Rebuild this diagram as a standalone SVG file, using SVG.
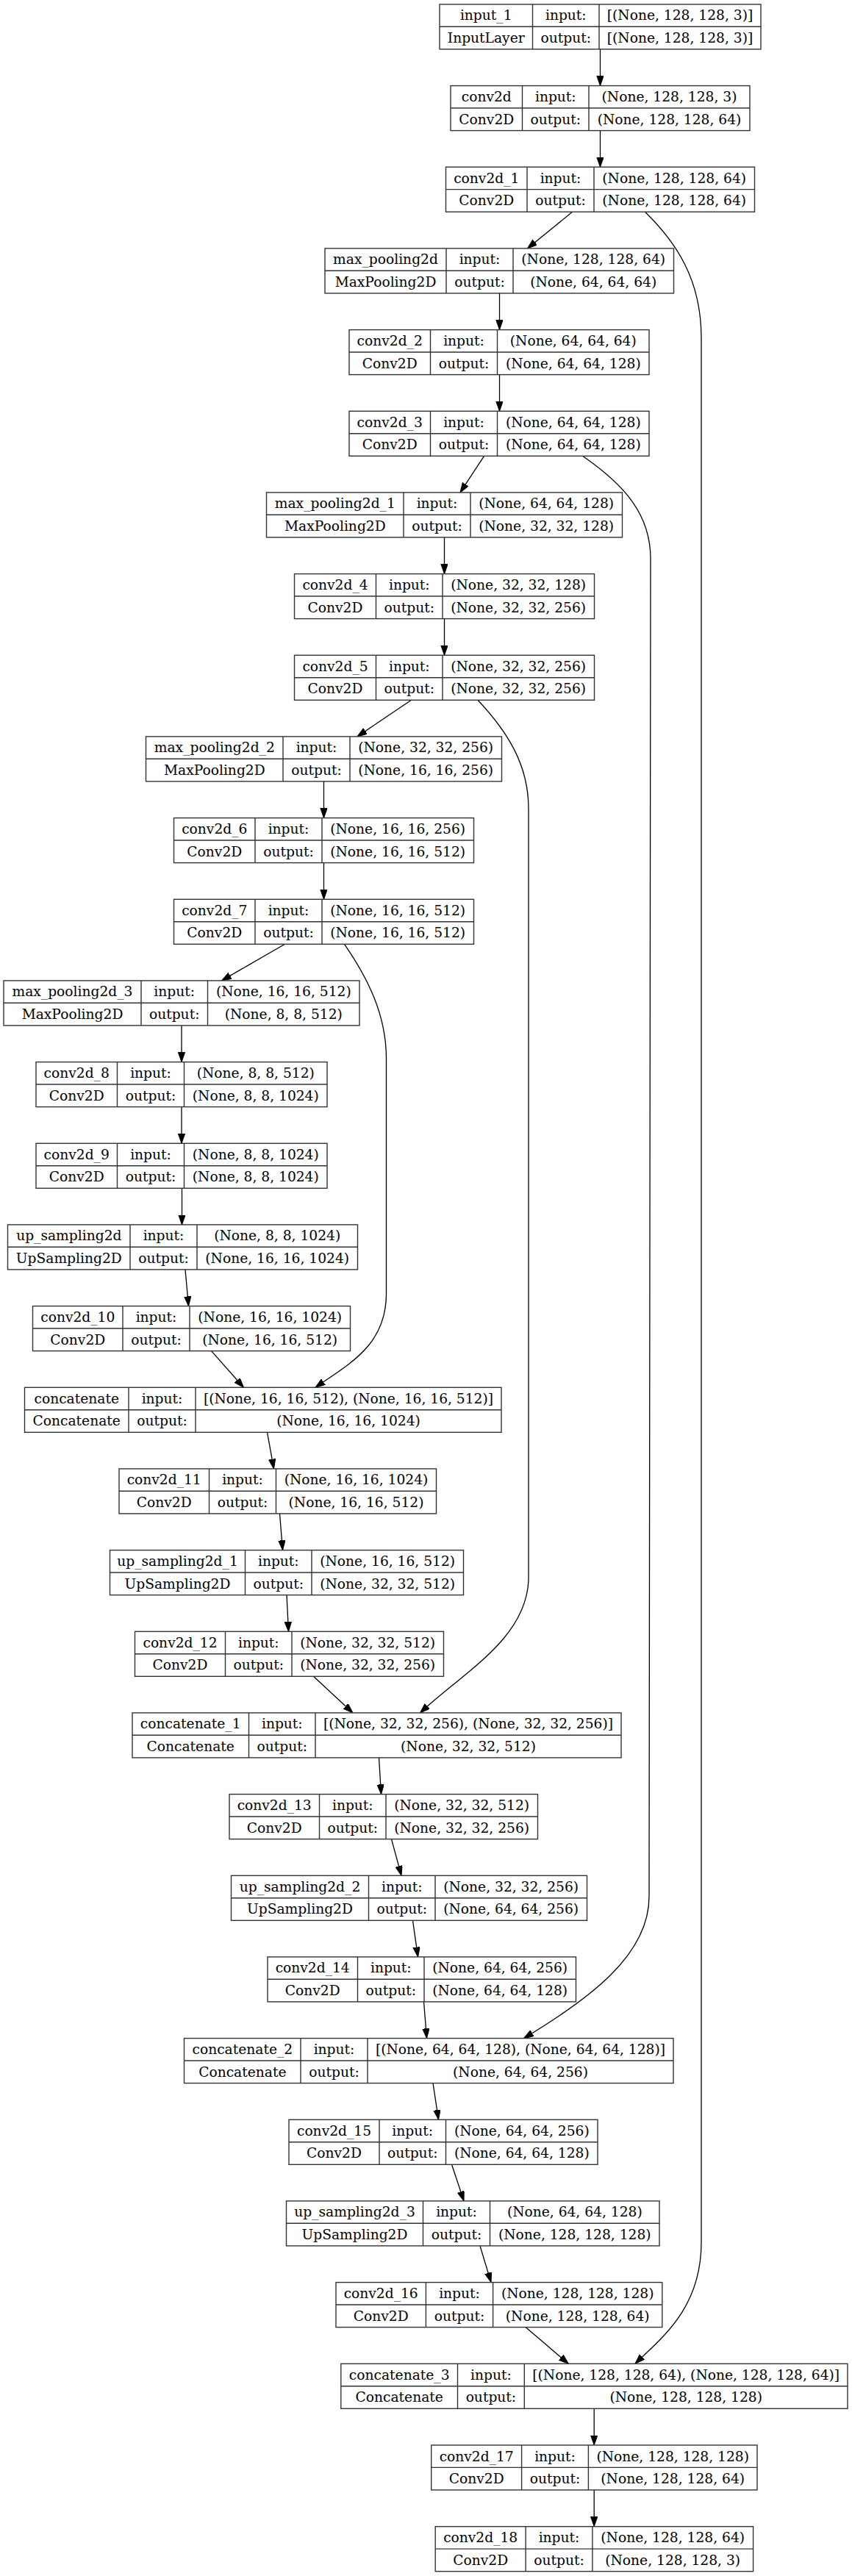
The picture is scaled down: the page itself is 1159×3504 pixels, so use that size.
<svg xmlns="http://www.w3.org/2000/svg" width="1159" height="3504" viewBox="0 0 1159 3504">
<style>
.b{fill:#fff;stroke:#333;stroke-width:1.4}
.l{stroke:#333;stroke-width:1.4;fill:none}
text{font-family:"DejaVu Serif","Liberation Serif",serif;font-size:18.67px;fill:#000;text-anchor:middle}
.e{stroke:#000;stroke-width:1.3;fill:none;marker-end:url(#ah)}
</style>
<defs>
<marker id="ah" markerWidth="14" markerHeight="10" refX="13.3" refY="4.67" orient="auto" markerUnits="userSpaceOnUse"><path d="M0,0 L13.3,4.67 L0,9.33 z" fill="#000" stroke="#000" stroke-width="1"/></marker>
</defs>
<rect width="1159" height="3504" fill="#fff"/>
<g id="connectors">
<path class="e" d="M816.5,67 L816.5,116.6"/>
<path class="e" d="M816.5,177.6 L816.5,227.2"/>
<path class="e" d="M778.5,288.3 L717.5,337.9"/>
<path class="e" d="M679.5,399 L679.5,448.6"/>
<path class="e" d="M679.5,509.6 L679.5,559.3"/>
<path class="e" d="M658.5,620.3 L626,669.9"/>
<path class="e" d="M604.5,731 L604.5,780.6"/>
<path class="e" d="M604.5,841.6 L604.5,891.3"/>
<path class="e" d="M559.5,952.3 L486,1001.9"/>
<path class="e" d="M440.5,1063 L440.5,1112.6"/>
<path class="e" d="M440.5,1173.6 L440.5,1223.3"/>
<path class="e" d="M387.5,1284.3 L301.5,1333.9"/>
<path class="e" d="M247,1395 L247,1444.6"/>
<path class="e" d="M247,1505.6 L247,1555.3"/>
<path class="e" d="M247.5,1616.3 L247.5,1665.9"/>
<path class="e" d="M252,1727 L256.5,1776.6"/>
<path class="e" d="M287.5,1837.6 L331.5,1887.3"/>
<path class="e" d="M363.5,1948.3 L372.5,1997.9"/>
<path class="e" d="M380.5,2059 L384.5,2108.6"/>
<path class="e" d="M390,2169.6 L392.5,2219.3"/>
<path class="e" d="M426.5,2280.3 L480,2329.9"/>
<path class="e" d="M515.5,2391 L518.5,2440.6"/>
<path class="e" d="M532.5,2501.6 L546,2551.3"/>
<path class="e" d="M561.5,2612.3 L568.5,2661.9"/>
<path class="e" d="M576.5,2723 L580.5,2772.6"/>
<path class="e" d="M589,2833.6 L596.5,2883.3"/>
<path class="e" d="M614.5,2944.3 L631,2993.9"/>
<path class="e" d="M653,3055 L668,3104.6"/>
<path class="e" d="M715,3165.6 L773.3,3215.3"/>
<path class="e" d="M808.2,3276.3 L808.2,3325.9"/>
<path class="e" d="M808.2,3387 L808.2,3436.6"/>
<path class="e" d="M877.5,288.3 C920,330 954,380 954,460 L954,3050 C954,3140 900,3180 864,3215.3"/>
<path class="e" d="M792.5,620.3 C850,660 885,700 885,760 L883,2580 C883,2660 800,2720 712.5,2772.6"/>
<path class="e" d="M650,952.3 C690,995 719,1040 719,1100 L719,2150 C715,2230 630,2275 571.5,2329.9"/>
<path class="e" d="M468.5,1284.3 C500,1330 525.5,1380 525.5,1440 L525.5,1760 C525.5,1830 475,1855 429,1887.3"/>
</g>
<g id="input_1" transform="translate(0,5.9)"><rect class="b" x="598" y="0" width="437" height="61"/><path class="l" d="M598,30.4H1035M724.5,0V61M815,0V61"/><text x="661.2" y="21.5">input_1</text><text x="661.2" y="52">InputLayer</text><text x="769.8" y="21.5">input:</text><text x="769.8" y="52">output:</text><text x="925" y="21.5">[(None, 128, 128, 3)]</text><text x="925" y="52">[(None, 128, 128, 3)]</text></g>
<g id="conv2d" transform="translate(0,116.6)"><rect class="b" x="613" y="0" width="407" height="61"/><path class="l" d="M613,30.4H1020M710.5,0V61M801,0V61"/><text x="661.8" y="21.5">conv2d</text><text x="661.8" y="52">Conv2D</text><text x="755.8" y="21.5">input:</text><text x="755.8" y="52">output:</text><text x="910.5" y="21.5">(None, 128, 128, 3)</text><text x="910.5" y="52">(None, 128, 128, 64)</text></g>
<g id="conv2d_1" transform="translate(0,227.2)"><rect class="b" x="606.5" y="0" width="420" height="61"/><path class="l" d="M606.5,30.4H1026.5M717,0V61M808,0V61"/><text x="661.8" y="21.5">conv2d_1</text><text x="661.8" y="52">Conv2D</text><text x="762.5" y="21.5">input:</text><text x="762.5" y="52">output:</text><text x="917.2" y="21.5">(None, 128, 128, 64)</text><text x="917.2" y="52">(None, 128, 128, 64)</text></g>
<g id="max_pooling2d" transform="translate(0,337.9)"><rect class="b" x="442" y="0" width="474.5" height="61"/><path class="l" d="M442,30.4H916.5M607,0V61M698,0V61"/><text x="524.5" y="21.5">max_pooling2d</text><text x="524.5" y="52">MaxPooling2D</text><text x="652.5" y="21.5">input:</text><text x="652.5" y="52">output:</text><text x="807.2" y="21.5">(None, 128, 128, 64)</text><text x="807.2" y="52">(None, 64, 64, 64)</text></g>
<g id="conv2d_2" transform="translate(0,448.6)"><rect class="b" x="475" y="0" width="408" height="61"/><path class="l" d="M475,30.4H883M585.5,0V61M676.5,0V61"/><text x="530.2" y="21.5">conv2d_2</text><text x="530.2" y="52">Conv2D</text><text x="631" y="21.5">input:</text><text x="631" y="52">output:</text><text x="779.8" y="21.5">(None, 64, 64, 64)</text><text x="779.8" y="52">(None, 64, 64, 128)</text></g>
<g id="conv2d_3" transform="translate(0,559.3)"><rect class="b" x="475" y="0" width="408" height="61"/><path class="l" d="M475,30.4H883M585.5,0V61M676.5,0V61"/><text x="530.2" y="21.5">conv2d_3</text><text x="530.2" y="52">Conv2D</text><text x="631" y="21.5">input:</text><text x="631" y="52">output:</text><text x="779.8" y="21.5">(None, 64, 64, 128)</text><text x="779.8" y="52">(None, 64, 64, 128)</text></g>
<g id="max_pooling2d_1" transform="translate(0,669.9)"><rect class="b" x="362.5" y="0" width="484" height="61"/><path class="l" d="M362.5,30.4H846.5M549,0V61M640,0V61"/><text x="455.8" y="21.5">max_pooling2d_1</text><text x="455.8" y="52">MaxPooling2D</text><text x="594.5" y="21.5">input:</text><text x="594.5" y="52">output:</text><text x="743.2" y="21.5">(None, 64, 64, 128)</text><text x="743.2" y="52">(None, 32, 32, 128)</text></g>
<g id="conv2d_4" transform="translate(0,780.6)"><rect class="b" x="400.5" y="0" width="408" height="61"/><path class="l" d="M400.5,30.4H808.5M511.5,0V61M602,0V61"/><text x="456" y="21.5">conv2d_4</text><text x="456" y="52">Conv2D</text><text x="556.8" y="21.5">input:</text><text x="556.8" y="52">output:</text><text x="705.2" y="21.5">(None, 32, 32, 128)</text><text x="705.2" y="52">(None, 32, 32, 256)</text></g>
<g id="conv2d_5" transform="translate(0,891.3)"><rect class="b" x="400.5" y="0" width="408" height="61"/><path class="l" d="M400.5,30.4H808.5M511.5,0V61M602,0V61"/><text x="456" y="21.5">conv2d_5</text><text x="456" y="52">Conv2D</text><text x="556.8" y="21.5">input:</text><text x="556.8" y="52">output:</text><text x="705.2" y="21.5">(None, 32, 32, 256)</text><text x="705.2" y="52">(None, 32, 32, 256)</text></g>
<g id="max_pooling2d_2" transform="translate(0,1001.9)"><rect class="b" x="198.5" y="0" width="484" height="61"/><path class="l" d="M198.5,30.4H682.5M385,0V61M476,0V61"/><text x="291.8" y="21.5">max_pooling2d_2</text><text x="291.8" y="52">MaxPooling2D</text><text x="430.5" y="21.5">input:</text><text x="430.5" y="52">output:</text><text x="579.2" y="21.5">(None, 32, 32, 256)</text><text x="579.2" y="52">(None, 16, 16, 256)</text></g>
<g id="conv2d_6" transform="translate(0,1112.6)"><rect class="b" x="236.5" y="0" width="408" height="61"/><path class="l" d="M236.5,30.4H644.5M347,0V61M438,0V61"/><text x="291.8" y="21.5">conv2d_6</text><text x="291.8" y="52">Conv2D</text><text x="392.5" y="21.5">input:</text><text x="392.5" y="52">output:</text><text x="541.2" y="21.5">(None, 16, 16, 256)</text><text x="541.2" y="52">(None, 16, 16, 512)</text></g>
<g id="conv2d_7" transform="translate(0,1223.3)"><rect class="b" x="236.5" y="0" width="408" height="61"/><path class="l" d="M236.5,30.4H644.5M347,0V61M438,0V61"/><text x="291.8" y="21.5">conv2d_7</text><text x="291.8" y="52">Conv2D</text><text x="392.5" y="21.5">input:</text><text x="392.5" y="52">output:</text><text x="541.2" y="21.5">(None, 16, 16, 512)</text><text x="541.2" y="52">(None, 16, 16, 512)</text></g>
<g id="max_pooling2d_3" transform="translate(0,1333.9)"><rect class="b" x="5" y="0" width="484" height="61"/><path class="l" d="M5,30.4H489M192,0V61M282.5,0V61"/><text x="98.5" y="21.5">max_pooling2d_3</text><text x="98.5" y="52">MaxPooling2D</text><text x="237.2" y="21.5">input:</text><text x="237.2" y="52">output:</text><text x="385.8" y="21.5">(None, 16, 16, 512)</text><text x="385.8" y="52">(None, 8, 8, 512)</text></g>
<g id="conv2d_8" transform="translate(0,1444.6)"><rect class="b" x="49" y="0" width="396" height="61"/><path class="l" d="M49,30.4H445M159.5,0V61M250.5,0V61"/><text x="104.2" y="21.5">conv2d_8</text><text x="104.2" y="52">Conv2D</text><text x="205" y="21.5">input:</text><text x="205" y="52">output:</text><text x="347.8" y="21.5">(None, 8, 8, 512)</text><text x="347.8" y="52">(None, 8, 8, 1024)</text></g>
<g id="conv2d_9" transform="translate(0,1555.3)"><rect class="b" x="49" y="0" width="396" height="61"/><path class="l" d="M49,30.4H445M159.5,0V61M250.5,0V61"/><text x="104.2" y="21.5">conv2d_9</text><text x="104.2" y="52">Conv2D</text><text x="205" y="21.5">input:</text><text x="205" y="52">output:</text><text x="347.8" y="21.5">(None, 8, 8, 1024)</text><text x="347.8" y="52">(None, 8, 8, 1024)</text></g>
<g id="up_sampling2d" transform="translate(0,1665.9)"><rect class="b" x="10.5" y="0" width="476" height="61"/><path class="l" d="M10.5,30.4H486.5M177,0V61M268,0V61"/><text x="93.8" y="21.5">up_sampling2d</text><text x="93.8" y="52">UpSampling2D</text><text x="222.5" y="21.5">input:</text><text x="222.5" y="52">output:</text><text x="377.2" y="21.5">(None, 8, 8, 1024)</text><text x="377.2" y="52">(None, 16, 16, 1024)</text></g>
<g id="conv2d_10" transform="translate(0,1776.6)"><rect class="b" x="44.5" y="0" width="432" height="61"/><path class="l" d="M44.5,30.4H476.5M167,0V61M258,0V61"/><text x="105.8" y="21.5">conv2d_10</text><text x="105.8" y="52">Conv2D</text><text x="212.5" y="21.5">input:</text><text x="212.5" y="52">output:</text><text x="367.2" y="21.5">(None, 16, 16, 1024)</text><text x="367.2" y="52">(None, 16, 16, 512)</text></g>
<g id="concatenate" transform="translate(0,1887.3)"><rect class="b" x="33.5" y="0" width="648.5" height="61"/><path class="l" d="M33.5,30.4H682M175,0V61M266,0V61"/><text x="104.2" y="21.5">concatenate</text><text x="104.2" y="52">Concatenate</text><text x="220.5" y="21.5">input:</text><text x="220.5" y="52">output:</text><text x="474" y="21.5">[(None, 16, 16, 512), (None, 16, 16, 512)]</text><text x="474" y="52">(None, 16, 16, 1024)</text></g>
<g id="conv2d_11" transform="translate(0,1997.9)"><rect class="b" x="162" y="0" width="431.5" height="61"/><path class="l" d="M162,30.4H593.5M284.5,0V61M375.5,0V61"/><text x="223.2" y="21.5">conv2d_11</text><text x="223.2" y="52">Conv2D</text><text x="330" y="21.5">input:</text><text x="330" y="52">output:</text><text x="484.5" y="21.5">(None, 16, 16, 1024)</text><text x="484.5" y="52">(None, 16, 16, 512)</text></g>
<g id="up_sampling2d_1" transform="translate(0,2108.6)"><rect class="b" x="149.5" y="0" width="481" height="61"/><path class="l" d="M149.5,30.4H630.5M333.5,0V61M424,0V61"/><text x="241.5" y="21.5">up_sampling2d_1</text><text x="241.5" y="52">UpSampling2D</text><text x="378.8" y="21.5">input:</text><text x="378.8" y="52">output:</text><text x="527.2" y="21.5">(None, 16, 16, 512)</text><text x="527.2" y="52">(None, 32, 32, 512)</text></g>
<g id="conv2d_12" transform="translate(0,2219.3)"><rect class="b" x="183.5" y="0" width="420" height="61"/><path class="l" d="M183.5,30.4H603.5M306.5,0V61M397,0V61"/><text x="245" y="21.5">conv2d_12</text><text x="245" y="52">Conv2D</text><text x="351.8" y="21.5">input:</text><text x="351.8" y="52">output:</text><text x="500.2" y="21.5">(None, 32, 32, 512)</text><text x="500.2" y="52">(None, 32, 32, 256)</text></g>
<g id="concatenate_1" transform="translate(0,2329.9)"><rect class="b" x="180" y="0" width="665" height="61"/><path class="l" d="M180,30.4H845M338.5,0V61M429,0V61"/><text x="259.2" y="21.5">concatenate_1</text><text x="259.2" y="52">Concatenate</text><text x="383.8" y="21.5">input:</text><text x="383.8" y="52">output:</text><text x="637" y="21.5">[(None, 32, 32, 256), (None, 32, 32, 256)]</text><text x="637" y="52">(None, 32, 32, 512)</text></g>
<g id="conv2d_13" transform="translate(0,2440.6)"><rect class="b" x="312" y="0" width="419.5" height="61"/><path class="l" d="M312,30.4H731.5M434.5,0V61M525,0V61"/><text x="373.2" y="21.5">conv2d_13</text><text x="373.2" y="52">Conv2D</text><text x="479.8" y="21.5">input:</text><text x="479.8" y="52">output:</text><text x="628.2" y="21.5">(None, 32, 32, 512)</text><text x="628.2" y="52">(None, 32, 32, 256)</text></g>
<g id="up_sampling2d_2" transform="translate(0,2551.3)"><rect class="b" x="314.5" y="0" width="484" height="61"/><path class="l" d="M314.5,30.4H798.5M501.5,0V61M592,0V61"/><text x="408" y="21.5">up_sampling2d_2</text><text x="408" y="52">UpSampling2D</text><text x="546.8" y="21.5">input:</text><text x="546.8" y="52">output:</text><text x="695.2" y="21.5">(None, 32, 32, 256)</text><text x="695.2" y="52">(None, 64, 64, 256)</text></g>
<g id="conv2d_14" transform="translate(0,2661.9)"><rect class="b" x="364" y="0" width="419.5" height="61"/><path class="l" d="M364,30.4H783.5M486.5,0V61M577,0V61"/><text x="425.2" y="21.5">conv2d_14</text><text x="425.2" y="52">Conv2D</text><text x="531.8" y="21.5">input:</text><text x="531.8" y="52">output:</text><text x="680.2" y="21.5">(None, 64, 64, 256)</text><text x="680.2" y="52">(None, 64, 64, 128)</text></g>
<g id="concatenate_2" transform="translate(0,2772.6)"><rect class="b" x="250.5" y="0" width="665.5" height="61"/><path class="l" d="M250.5,30.4H916M409,0V61M500,0V61"/><text x="329.8" y="21.5">concatenate_2</text><text x="329.8" y="52">Concatenate</text><text x="454.5" y="21.5">input:</text><text x="454.5" y="52">output:</text><text x="708" y="21.5">[(None, 64, 64, 128), (None, 64, 64, 128)]</text><text x="708" y="52">(None, 64, 64, 256)</text></g>
<g id="conv2d_15" transform="translate(0,2883.3)"><rect class="b" x="393" y="0" width="420" height="61"/><path class="l" d="M393,30.4H813M516,0V61M606.5,0V61"/><text x="454.5" y="21.5">conv2d_15</text><text x="454.5" y="52">Conv2D</text><text x="561.2" y="21.5">input:</text><text x="561.2" y="52">output:</text><text x="709.8" y="21.5">(None, 64, 64, 256)</text><text x="709.8" y="52">(None, 64, 64, 128)</text></g>
<g id="up_sampling2d_3" transform="translate(0,2993.9)"><rect class="b" x="389.5" y="0" width="507.5" height="61"/><path class="l" d="M389.5,30.4H897M575.5,0V61M666.5,0V61"/><text x="482.5" y="21.5">up_sampling2d_3</text><text x="482.5" y="52">UpSampling2D</text><text x="621" y="21.5">input:</text><text x="621" y="52">output:</text><text x="781.8" y="21.5">(None, 64, 64, 128)</text><text x="781.8" y="52">(None, 128, 128, 128)</text></g>
<g id="conv2d_16" transform="translate(0,3104.6)"><rect class="b" x="457" y="0" width="443.8" height="61"/><path class="l" d="M457,30.4H900.8M579.4,0V61M670.6,0V61"/><text x="518.2" y="21.5">conv2d_16</text><text x="518.2" y="52">Conv2D</text><text x="625" y="21.5">input:</text><text x="625" y="52">output:</text><text x="785.7" y="21.5">(None, 128, 128, 128)</text><text x="785.7" y="52">(None, 128, 128, 64)</text></g>
<g id="concatenate_3" transform="translate(0,3215.3)"><rect class="b" x="463.8" y="0" width="689.2" height="61"/><path class="l" d="M463.8,30.4H1153M622.5,0V61M713.3,0V61"/><text x="543.2" y="21.5">concatenate_3</text><text x="543.2" y="52">Concatenate</text><text x="667.9" y="21.5">input:</text><text x="667.9" y="52">output:</text><text x="933.2" y="21.5">[(None, 128, 128, 64), (None, 128, 128, 64)]</text><text x="933.2" y="52">(None, 128, 128, 128)</text></g>
<g id="conv2d_17" transform="translate(0,3326)"><rect class="b" x="586.7" y="0" width="443.3" height="61"/><path class="l" d="M586.7,30.4H1030M709.6,0V61M800.4,0V61"/><text x="648.2" y="21.5">conv2d_17</text><text x="648.2" y="52">Conv2D</text><text x="755" y="21.5">input:</text><text x="755" y="52">output:</text><text x="915.2" y="21.5">(None, 128, 128, 128)</text><text x="915.2" y="52">(None, 128, 128, 64)</text></g>
<g id="conv2d_18" transform="translate(0,3436.7)"><rect class="b" x="592.2" y="0" width="432.4" height="61"/><path class="l" d="M592.2,30.4H1024.6M715.1,0V61M805.9,0V61"/><text x="653.7" y="21.5">conv2d_18</text><text x="653.7" y="52">Conv2D</text><text x="760.5" y="21.5">input:</text><text x="760.5" y="52">output:</text><text x="915.2" y="21.5">(None, 128, 128, 64)</text><text x="915.2" y="52">(None, 128, 128, 3)</text></g>
</svg>
